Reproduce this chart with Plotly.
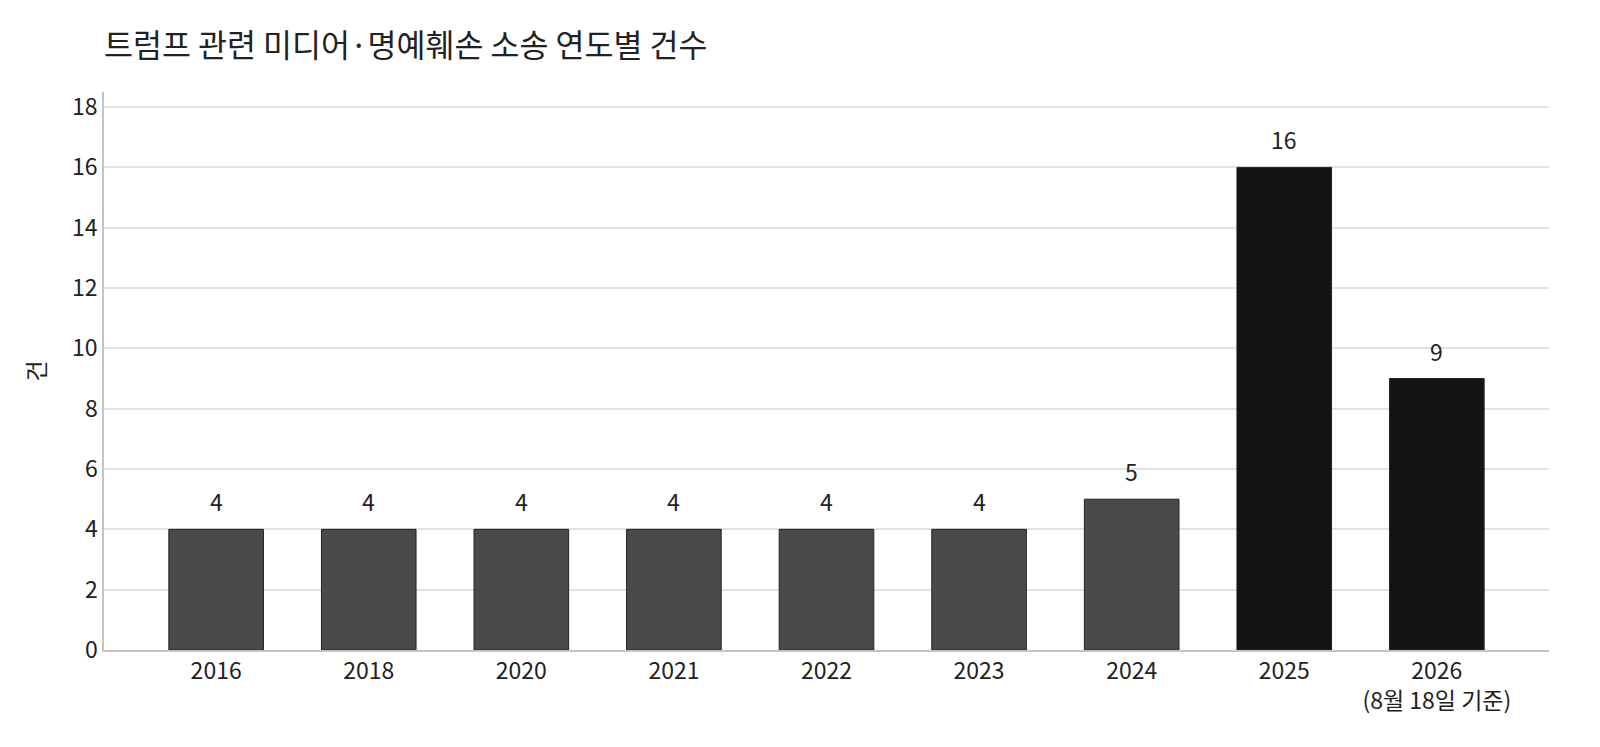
import plotly.graph_objects as go

# Data
years = ["2016", "2018", "2020", "2021", "2022", "2023", "2024", "2025", "2026<br>(8월 18일 기준)"]
counts = [4, 4, 4, 4, 4, 4, 5, 16, 9]
bar_colors = ["#4a4a4a"] * 7 + ["#141414"] * 2

FONT = "Noto Sans CJK KR"
TEXT = "#222222"

fig = go.Figure()
fig.add_trace(
    go.Bar(
        x=years,
        y=counts,
        marker=dict(color=bar_colors, line=dict(color="#222222", width=1)),
        hovertemplate="%{x}: %{y}건<extra></extra>",
    )
)

# value labels above bars (category index positions)
for i, c in enumerate(counts):
    fig.add_annotation(
        x=i, y=c, text=str(c),
        showarrow=False, yanchor="bottom", yshift=9,
        font=dict(size=23, color=TEXT, family=FONT),
    )

fig.update_layout(
    title=dict(
        text="트럼프 관련 미디어·명예훼손 소송 연도별 건수",
        x=96 / 1600, xanchor="left",
        y=1 - 38 / 747, yanchor="middle",
        font=dict(size=31.5, color=TEXT, family=FONT),
    ),
    width=1600, height=747,
    margin=dict(l=96, r=59, t=84, b=105),
    plot_bgcolor="white",
    paper_bgcolor="white",
    bargap=0.38,
    showlegend=False,
    font=dict(family=FONT, color=TEXT),
)

fig.update_xaxes(
    type="category",
    range=[-0.735, len(years) - 1 + 0.735],
    showline=True, linecolor="#c4c4c4", linewidth=1.5,
    tickfont=dict(size=23, family=FONT, color=TEXT),
    ticks="", showgrid=False,
)
fig.update_yaxes(
    range=[0, 18.5],
    dtick=2,
    showline=True, linecolor="#c4c4c4", linewidth=1.5,
    gridcolor="#e2e2e2", gridwidth=1.5,
    zeroline=False,
    tickfont=dict(size=23, family=FONT, color=TEXT),
    title=dict(text="건", font=dict(size=23, family=FONT, color=TEXT), standoff=20),
)

fig.write_html("out.html")
